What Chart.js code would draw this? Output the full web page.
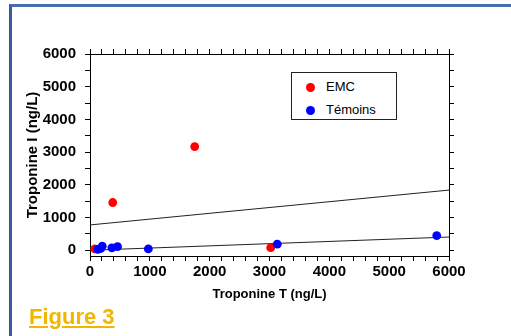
<!DOCTYPE html>
<html>
<head>
<meta charset="utf-8">
<script src="https://cdn.jsdelivr.net/npm/chart.js@4"></script>
<style>
  body { margin: 0; background: #fff; }
  .wrap { position: relative; width: 511px; height: 336px; overflow: hidden; background: #fff; }
  .cadre { position: absolute; left: 9px; top: 4px; width: 700px; height: 500px;
           border-top: 3px solid #4a6cb0; border-left: 3px solid #3a5aa0; }
  .graf { position: absolute; left: 0; top: 0; }
  .legende { position: absolute; left: 291px; top: 72px; width: 104px; height: 46px;
             border: 1px solid #222; background: #fff; font-family: Arial, sans-serif; font-size: 13px; }
  .item { position: absolute; left: 14px; height: 16px; line-height: 16px; }
  .item span { display: inline-block; width: 9px; height: 9px; border-radius: 50%; margin-right: 11px; vertical-align: -1px; }
  .figure { position: absolute; left: 29px; top: 305px; font-family: Arial, sans-serif; font-weight: bold;
            font-size: 22px; line-height: 24px; color: #f2b600; text-decoration: underline; }
</style>
</head>
<body>
<div class="wrap">
  <div class="cadre"></div>
  <canvas class="graf" width="511" height="336"></canvas>
  <div class="legende"></div>
  <div class="figure">Figure 3</div>
</div>
<script>
// donnees
const emcX = [80, 380, 1750, 3020];
const emcY = [40, 1460, 3170, 80];
const temoinsX = [130, 180, 205, 365, 460, 975, 3130, 5795];
const temoinsY = [30, 55, 125, 75, 110, 40, 185, 450];

const droiteX = [0, 6000];
const droiteHautY = [775, 1840];
const droiteBasY = [0, 405];

const series = ['EMC', 'Témoins'];
const couleurs = ['#ff0000', '#0000ff'];

const xMin = 0, xMax = 6000, xPas = 200;
const yMin = -175, yMax = 6000, yPas = 500;
const pasLabel = 1000;

function points(xs, ys) {
    return xs.map((x, i) => ({ x: x, y: ys[i] }));
}

const policeTicks = { family: 'Arial', size: 15, weight: 'bold' };
const policeTitre = { family: 'Arial', size: 13, weight: 'bold' };

function axe(pos, min, max, pas, labels) {
    return {
        type: 'linear',
        position: pos,
        axis: (pos === 'top' || pos === 'bottom') ? 'x' : 'y',
        min: min,
        max: max,
        // ticks de 0 au max, sans la marge sous zero
        afterBuildTicks: s => {
            const t = [];
            for (let v = 0; v <= max; v += pas) t.push({ value: v });
            s.ticks = t;
        },
        border: { display: true, color: '#000', width: 1 },
        grid: { drawOnChartArea: false, drawTicks: true, tickLength: 5, tickColor: '#000' },
        ticks: {
            display: labels,
            autoSkip: false,
            maxRotation: 0,
            color: '#000',
            font: policeTicks,
            callback: v => (v % pasLabel === 0 ? String(v) : '')
        }
    };
}

const ctx = document.querySelector('.graf');

const scaleX = axe('bottom', xMin, xMax, xPas, true);
scaleX.ticks.padding = 2;
scaleX.title = { display: true, text: 'Troponine T (ng/L)', color: '#000', font: policeTitre, padding: 0 };
scaleX.afterFit = s => { s.height = 46; };

const scaleY = axe('left', yMin, yMax, yPas, true);
scaleY.ticks.padding = 9;
scaleY.title = { display: true, text: 'Troponine I (ng/L)', color: '#000', font: { family: 'Arial', size: 15, weight: 'bold' }, padding: 0 };
scaleY.afterFit = s => { s.width = 66; };

let myChart = new Chart(ctx, {
    type: 'scatter',
    data: {
        datasets: [{
            label: series[0],
            data: points(emcX, emcY),
            backgroundColor: couleurs[0],
            borderWidth: 0,
            pointRadius: 4.4,
            order: 1
        }, {
            label: series[1],
            data: points(temoinsX, temoinsY),
            backgroundColor: couleurs[1],
            borderWidth: 0,
            pointRadius: 4.4,
            order: 0
        }, {
            type: 'line',
            data: points(droiteX, droiteHautY),
            borderColor: '#222',
            borderWidth: 1,
            pointRadius: 0,
            order: 2
        }, {
            type: 'line',
            data: points(droiteX, droiteBasY),
            borderColor: '#222',
            borderWidth: 1,
            pointRadius: 0,
            order: 2
        }]
    },
    options: {
        responsive: false,
        animation: false,
        devicePixelRatio: 1,
        layout: { padding: { top: 49, right: 57, bottom: 34, left: 24 } },
        plugins: { legend: { display: false }, tooltip: { enabled: false } },
        scales: {
            x: scaleX,
            y: scaleY,
            x2: axe('top', xMin, xMax, xPas, false),
            y2: axe('right', yMin, yMax, yPas, false)
        }
    }
});

// legende
const legende = document.querySelector('.legende');
series.forEach((nom, i) => {
    const d = document.createElement('div');
    d.className = 'item';
    d.style.top = (6 + i * 23) + 'px';
    d.innerHTML = '<span style="background:' + couleurs[i] + '"></span>' + nom;
    legende.appendChild(d);
});
</script>
</body>
</html>
